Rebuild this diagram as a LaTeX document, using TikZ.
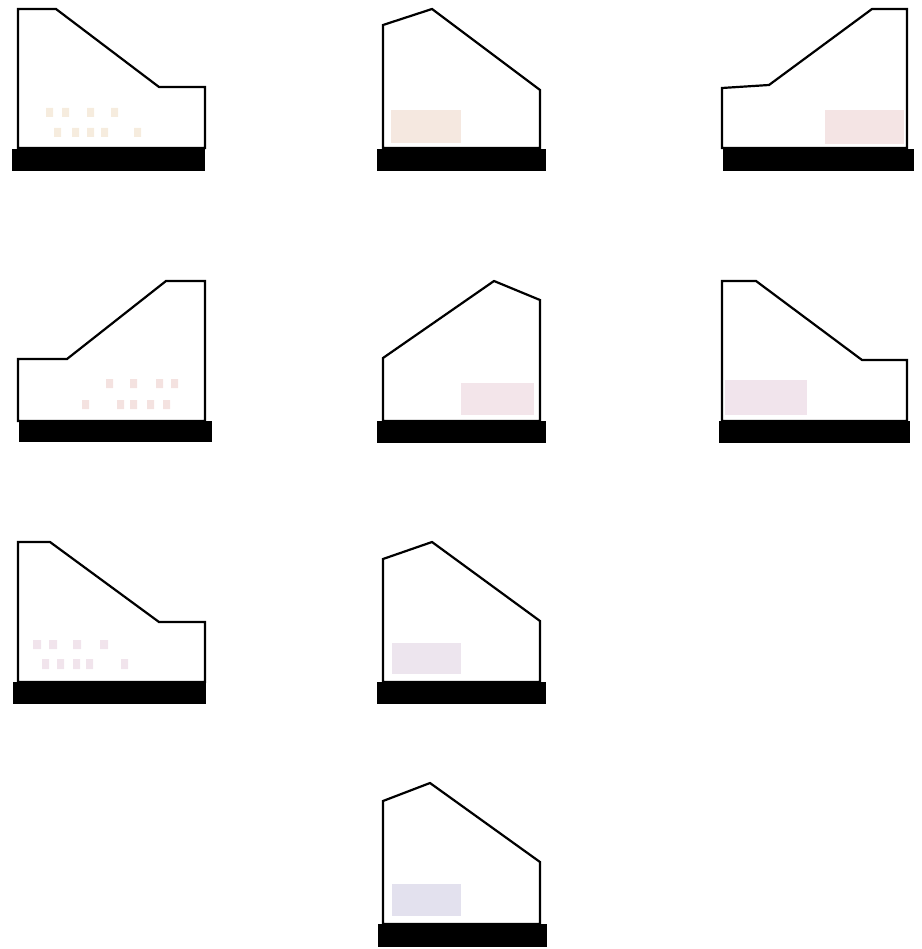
\documentclass[tikz,border=0pt]{standalone}
\usepackage{tikz}

\definecolor{tanpale}{RGB}{246,236,222}
\definecolor{peachpale}{RGB}{245,232,224}
\definecolor{rosepale}{RGB}{244,228,228}
\definecolor{pinkpale}{RGB}{244,226,224}
\definecolor{mauvepale}{RGB}{243,229,234}
\definecolor{lilacpale}{RGB}{241,228,236}
\definecolor{lavpale}{RGB}{237,229,238}
\definecolor{bluepale}{RGB}{227,225,238}

\tikzset{
  house/.style={line width=2.2pt,line join=miter,black},
  ground/.style={fill=black,draw=none},
}

\begin{document}
\begin{tikzpicture}[x=1pt,y=-1pt]
\useasboundingbox (0,0) rectangle (921,949);

% row 1
 \fill[tanpale] foreach \x in {46,62,87,111} {(\x,108) rectangle ++(7,9)};
 \fill[tanpale] foreach \x in {54,72,87,101,134} {(\x,128) rectangle ++(7,9)};
 \draw[house] (18,9)--(56,9)--(159,87)--(205,87)--(205,148)--(18,148)--cycle;
 \fill[ground] (12,149) rectangle (205,171);

 \fill[peachpale] (391,110) rectangle (461,143);
 \draw[house] (383,25)--(432,9)--(540,90)--(540,148)--(383,148)--cycle;
 \fill[ground] (377,149) rectangle (546,171);

 \fill[rosepale] (825,110) rectangle (904,144);
 \draw[house] (722,88)--(769,85)--(872,9)--(907,9)--(907,148)--(722,148)--cycle;
 \fill[ground] (723,149) rectangle (914,171);

% row 2
 \fill[pinkpale] foreach \x in {106,130,156,171} {(\x,379) rectangle ++(7,9)};
 \fill[pinkpale] foreach \x in {82,117,130,147,163} {(\x,400) rectangle ++(7,9)};
 \draw[house] (18,359)--(67,359)--(166,281)--(205,281)--(205,421)--(18,421)--cycle;
 \fill[ground] (19,421) rectangle (212,442);

 \fill[mauvepale] (461,383) rectangle (534,415);
 \draw[house] (383,358)--(494,281)--(540,300)--(540,421)--(383,421)--cycle;
 \fill[ground] (377,421) rectangle (546,443);

 \fill[lilacpale] (725,380) rectangle (807,415);
 \draw[house] (722,281)--(756,281)--(862,360)--(907,360)--(907,421)--(722,421)--cycle;
 \fill[ground] (719,421) rectangle (910,443);

% row 3
 \fill[lilacpale] foreach \x in {33,49,73,100} {(\x,640) rectangle ++(8,9)};
 \fill[lilacpale] foreach \x in {42,57,73,86,121} {(\x,659) rectangle ++(7,10)};
 \draw[house] (18,542)--(50,542)--(159,622)--(205,622)--(205,682)--(18,682)--cycle;
 \fill[ground] (13,682) rectangle (206,704);

 \fill[lavpale] (392,643) rectangle (461,674);
 \draw[house] (383,559)--(432,542)--(540,621)--(540,682)--(383,682)--cycle;
 \fill[ground] (377,682) rectangle (546,704);

% row 4
 \fill[bluepale] (392,884) rectangle (461,916);
 \draw[house] (383,801)--(430,783)--(540,862)--(540,924)--(383,924)--cycle;
 \fill[ground] (378,924) rectangle (547,947);
\end{tikzpicture}
\end{document}
